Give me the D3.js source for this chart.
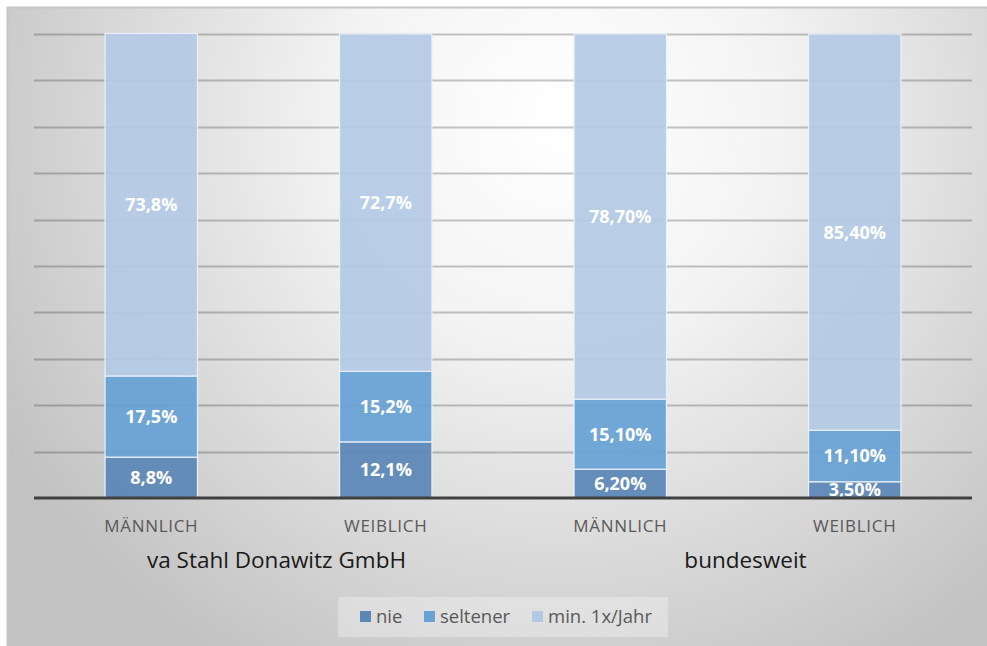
<!DOCTYPE html>
<html><head><meta charset="utf-8">
<script src="https://cdn.jsdelivr.net/npm/d3@7"></script>
<style>
html,body{margin:0;padding:0;background:#fff;}
svg{display:block;}
text{font-family:"Open Sans",sans-serif;}
</style></head>
<body>
<svg id="chart" width="987" height="646"></svg>
<script>
const categories = ["MÄNNLICH","WEIBLICH","MÄNNLICH","WEIBLICH"];
const groups = ["va Stahl Donawitz GmbH","bundesweit"];
const seriesNames = ["nie","seltener","min. 1x/Jahr"];
const nieValues = [8.8, 12.1, 6.2, 3.5];
const seltenerValues = [17.5, 15.2, 15.1, 11.1];
const minValues = [73.8, 72.7, 78.7, 85.4];
const nieLabels = ["8,8%","12,1%","6,20%","3,50%"];
const seltenerLabels = ["17,5%","15,2%","15,10%","11,10%"];
const minLabels = ["73,8%","72,7%","78,70%","85,40%"];
const yTicks = [0,10,20,30,40,50,60,70,80,90,100];
const colors = ["#5b87b6","#67a1d5","#b4c9e5"];

const svg = d3.select("#chart");
const defs = svg.append("defs");
const grad = defs.append("radialGradient").attr("id","bg")
  .attr("gradientUnits","userSpaceOnUse")
  .attr("cx",560).attr("cy",120).attr("r",640);
grad.append("stop").attr("offset","0").attr("stop-color","#ffffff");
grad.append("stop").attr("offset","0.35").attr("stop-color","#f3f3f3");
grad.append("stop").attr("offset","1").attr("stop-color","#c2c2c2");

svg.append("rect").attr("x",7).attr("y",7).attr("width",980).attr("height",639)
  .attr("fill","url(#bg)");
svg.append("line").attr("x1",7).attr("x2",987).attr("y1",7.5).attr("y2",7.5)
  .attr("stroke","#c6c6c6").attr("stroke-width",2);
svg.append("line").attr("x1",7.5).attr("x2",7.5).attr("y1",7).attr("y2",646)
  .attr("stroke","#c6c6c6").attr("stroke-width",2);

const mLeft = 34, mRight = 972, mTop = 34, mBottom = 498;
const x = d3.scaleBand().domain(d3.range(categories.length))
  .range([mLeft,mRight]).paddingInner(0.606).paddingOuter(0.303);
const y = d3.scaleLinear().domain([0,100]).range([mBottom,mTop]);

// gridlines
svg.append("g").selectAll("line").data(yTicks.filter(d=>d>0)).join("line")
  .attr("x1",mLeft).attr("x2",mRight)
  .attr("y1",d=>Math.round(y(d))+0.5).attr("y2",d=>Math.round(y(d))+0.5)
  .attr("stroke","#000").attr("stroke-opacity",0.22).attr("stroke-width",2);

const data = categories.map((c,i)=>({i, nie:nieValues[i], seltener:seltenerValues[i], min:minValues[i]}));
const stack = d3.stack().keys(["nie","seltener","min"]);
const stacked = stack(data);
const labelSets = [nieLabels, seltenerLabels, minLabels];

const layers = svg.append("g").selectAll("g").data(stacked).join("g")
  .attr("fill",(d,k)=>colors[k]);
layers.selectAll("rect").data(d=>d).join("rect")
  .attr("x",(d,i)=>x(i)).attr("width",x.bandwidth())
  .attr("y",d=>y(d[1])).attr("height",d=>y(d[0])-y(d[1]))
  .attr("fill-opacity",0.93)
  .attr("stroke","#e8f0fa").attr("stroke-width",1.2);

// labels
stacked.forEach((layer,k)=>{
  svg.append("g").selectAll("text").data(layer).join("text")
    .attr("x",(d,i)=>x(i)+x.bandwidth()/2)
    .attr("y",d=>(y(d[0])+y(d[1]))/2)
    .attr("dy","0.36em")
    .attr("text-anchor","middle")
    .attr("fill","#ffffff").attr("font-weight","bold").attr("font-size","18px")
    .text((d,i)=>labelSets[k][i]);
});

// baseline
svg.append("line").attr("x1",mLeft).attr("x2",mRight).attr("y1",mBottom).attr("y2",mBottom)
  .attr("stroke","#404040").attr("stroke-width",3);

// category labels
svg.append("g").selectAll("text").data(categories).join("text")
  .attr("x",(d,i)=>x(i)+x.bandwidth()/2).attr("y",526).attr("dy","0.35em")
  .attr("text-anchor","middle").attr("fill","#595959").attr("font-size","17px")
  .attr("letter-spacing","0.7px")
  .text(d=>d);

// group labels
svg.append("g").selectAll("text").data(groups).join("text")
  .attr("x",(d,g)=>(x(2*g)+x(2*g+1)+x.bandwidth())/2+8).attr("y",560).attr("dy","0.35em")
  .attr("text-anchor","middle").attr("fill","#1a1a1a").attr("font-size","22.5px")
  .text(d=>d);

// legend
const lg = svg.append("g");
lg.append("rect").attr("x",338).attr("y",597).attr("width",330).attr("height",40)
  .attr("fill","#ffffff").attr("fill-opacity",0.3);
const legendX = [360, 424, 532];
seriesNames.forEach((n,k)=>{
  lg.append("rect").attr("x",legendX[k]).attr("y",611).attr("width",11).attr("height",11)
    .attr("fill",colors[k]);
  lg.append("text").attr("x",legendX[k]+16).attr("y",617).attr("dy","0.35em")
    .attr("fill","#595959").attr("font-size","18.5px").text(n);
});
</script>
</body></html>
